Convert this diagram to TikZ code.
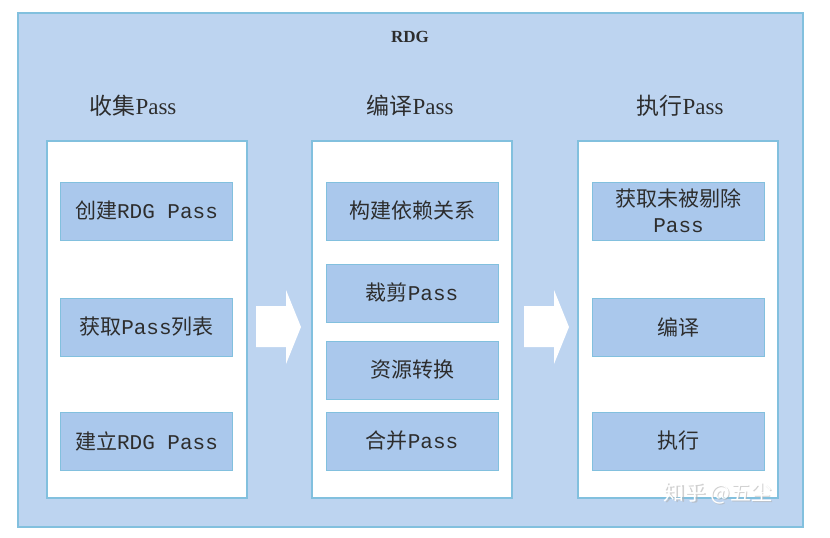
\documentclass[tikz,border=0pt]{standalone}
\usepackage{fontspec}
\setmainfont{Liberation Serif}
\newfontfamily\cjk{Noto Sans CJK SC}
\newfontfamily\monof{Liberation Mono}
\definecolor{outerfill}{RGB}{189,212,240}
\definecolor{boxfill}{RGB}{170,200,236}
\definecolor{edgec}{RGB}{130,192,222}
\definecolor{txt}{RGB}{45,45,45}
\begin{document}
\begin{tikzpicture}[x=1pt,y=-1pt,
  colbox/.style={draw=edgec,line width=1.2pt,fill=white},
  stepbox/.style={draw=edgec,line width=1pt,fill=boxfill,minimum width=172pt,minimum height=58pt,inner sep=0pt,text=txt,font=\fontsize{21}{25}\selectfont,align=center},
  headtxt/.style={text=txt,font=\fontsize{23}{26}\selectfont},
  blockarrow/.style={fill=white,draw=none}]
\useasboundingbox (0,0) rectangle (830,538);
\fill[white] (0,0) rectangle (830,538);
\draw[draw=edgec,line width=1.2pt,fill=outerfill] (18,13) rectangle (803,527);
\node[text=txt,font=\fontsize{17}{19}\selectfont\bfseries] (title) at (410,37) {RDG};
\node[headtxt] (h1) at (133,106) {{\cjk 收集}Pass};
\node[headtxt] (h2) at (410,106) {{\cjk 编译}Pass};
\node[headtxt] (h3) at (680,106) {{\cjk 执行}Pass};
\draw[colbox] (47,141) rectangle (247,498);
\draw[colbox] (312,141) rectangle (512,498);
\draw[colbox] (578,141) rectangle (778,498);
% column 1
\node[stepbox] (a1) at (146.5,211) {{\cjk 创建}{\monof RDG Pass}};
\node[stepbox] (a2) at (146.5,327) {{\cjk 获取}{\monof Pass}{\cjk 列表}};
\node[stepbox] (a3) at (146.5,441) {{\cjk 建立}{\monof RDG Pass}};
% column 2
\node[stepbox] (b1) at (412,211) {\cjk 构建依赖关系};
\node[stepbox] (b2) at (412,293) {{\cjk 裁剪}{\monof Pass}};
\node[stepbox] (b3) at (412,370) {\cjk 资源转换};
\node[stepbox] (b4) at (412,441) {{\cjk 合并}{\monof Pass}};
% column 3
\node[stepbox,font=\fontsize{21}{28}\selectfont] (c1) at (678.5,211) {{\cjk 获取未被剔除}\\[-2pt]{\monof Pass}};
\node[stepbox] (c2) at (678.5,327) {\cjk 编译};
\node[stepbox] (c3) at (678.5,441) {\cjk 执行};
% block arrows
\fill[blockarrow] (256,306) -- (286,306) -- (286,290) -- (301,327) -- (286,364) -- (286,347) -- (256,347) -- cycle;
\fill[blockarrow] (524,306) -- (554,306) -- (554,290) -- (569,327) -- (554,364) -- (554,347) -- (524,347) -- cycle;
% watermark
\node[text=black!30,opacity=0.6,font=\fontsize{21}{23}\selectfont] (wms) at (719.5,494.5) {{\cjk 知乎 @五尘}};
\node[text=white,font=\fontsize{21}{23}\selectfont] (wm) at (718,493) {{\cjk 知乎 @五尘}};
\end{tikzpicture}
\end{document}
